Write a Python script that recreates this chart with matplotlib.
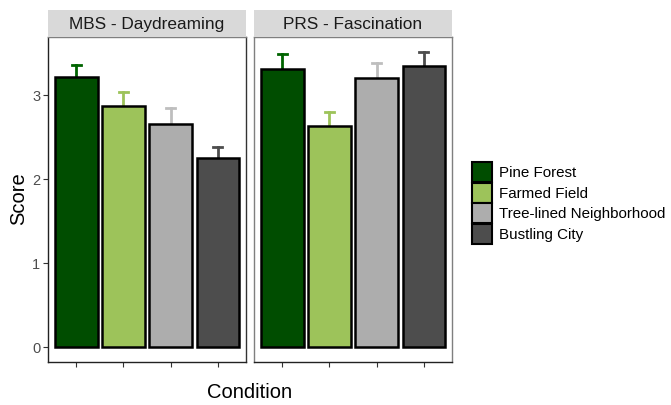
import numpy as np
import matplotlib.pyplot as plt
from matplotlib.patches import Patch

plt.rcParams['font.family'] = ['Liberation Sans', 'DejaVu Sans']

''' DATA '''

conditions = ['Pine Forest', 'Farmed Field', 'Tree-lined Neighborhood', 'Bustling City']
facets = ['MBS - Daydreaming', 'PRS - Fascination']
means = {
    'MBS - Daydreaming': [3.21, 2.87, 2.65, 2.25],
    'PRS - Fascination': [3.31, 2.63, 3.20, 3.35],
}
ses = {
    'MBS - Daydreaming': [0.15, 0.17, 0.19, 0.13],
    'PRS - Fascination': [0.18, 0.17, 0.18, 0.16],
}
fills = ['#004d00', '#9dc35a', '#adadad', '#4d4d4d']
err_colors = ['#006400', '#9dc35a', '#bebebe', '#4d4d4d']

''' PLOTTING '''

W, H = 671, 405
fig = plt.figure(figsize=(W / 100, H / 100), dpi=100)

panel_left = [48, 254]
panel_w = 198
panel_top, panel_bot = 37, 362
strip_top = 10

x = np.arange(1, 5)
for i, facet in enumerate(facets):
    l = panel_left[i]
    ax = fig.add_axes([l / W, (H - panel_bot) / H, panel_w / W, (panel_bot - panel_top) / H])
    m = np.array(means[facet])
    s = np.array(ses[facet])
    for j in range(4):
        ax.plot([x[j], x[j]], [m[j], m[j] + s[j]], color=err_colors[j], lw=2, zorder=1)
        ax.plot([x[j] - 0.1, x[j] + 0.1], [m[j] + s[j]] * 2, color=err_colors[j], lw=2, zorder=1)
    ax.bar(x, m, width=0.9, color=fills, edgecolor='black', linewidth=1.8, zorder=2)
    ax.set_xlim(0.4, 4.6)
    ax.set_ylim(-0.176, 3.69)
    ax.set_xticks(x)
    ax.set_xticklabels([])
    ax.tick_params(axis='x', length=3.5, color='#333333', width=0.8)
    for sp in ax.spines.values():
        sp.set_color('#7f7f7f')
        sp.set_linewidth(1)
    ax.spines['bottom'].set_color('#222222')
    if i == 0:
        ax.spines['left'].set_color('#222222')
        ax.spines['right'].set_color('#333333')
        ax.set_yticks([0, 1, 2, 3])
        ax.tick_params(axis='y', length=3.5, color='#333333', width=0.8,
                       labelsize=10.5, labelcolor='#4d4d4d', pad=2)
    else:
        ax.set_yticks([])

    # facet strip
    sax = fig.add_axes([l / W, (H - panel_top) / H, panel_w / W, (panel_top - strip_top) / H])
    sax.set_facecolor('#d9d9d9')
    sax.set_xticks([])
    sax.set_yticks([])
    for sp in sax.spines.values():
        sp.set_visible(False)
    sax.text(0.5, 0.48, facet, ha='center', va='center', fontsize=12.4, color='#1a1a1a',
             transform=sax.transAxes)

fig.text(19 / W, 1 - 199 / H, 'Score', ha='center', va='center', rotation=90, fontsize=14.5)
fig.text(250 / W, 1 - 393 / H, 'Condition', ha='center', va='center', fontsize=14.5)

handles = [Patch(facecolor=c, edgecolor='black', linewidth=1.5) for c in fills]
fig.legend(handles, conditions, loc='center left', bbox_to_anchor=(472 / W, 1 - 203 / H),
           frameon=False, fontsize=10.9, handlelength=1.3, handleheight=1.65,
           handletextpad=0.5, labelspacing=0.05, borderaxespad=0, borderpad=0)

plt.savefig('out.png', dpi=100)
